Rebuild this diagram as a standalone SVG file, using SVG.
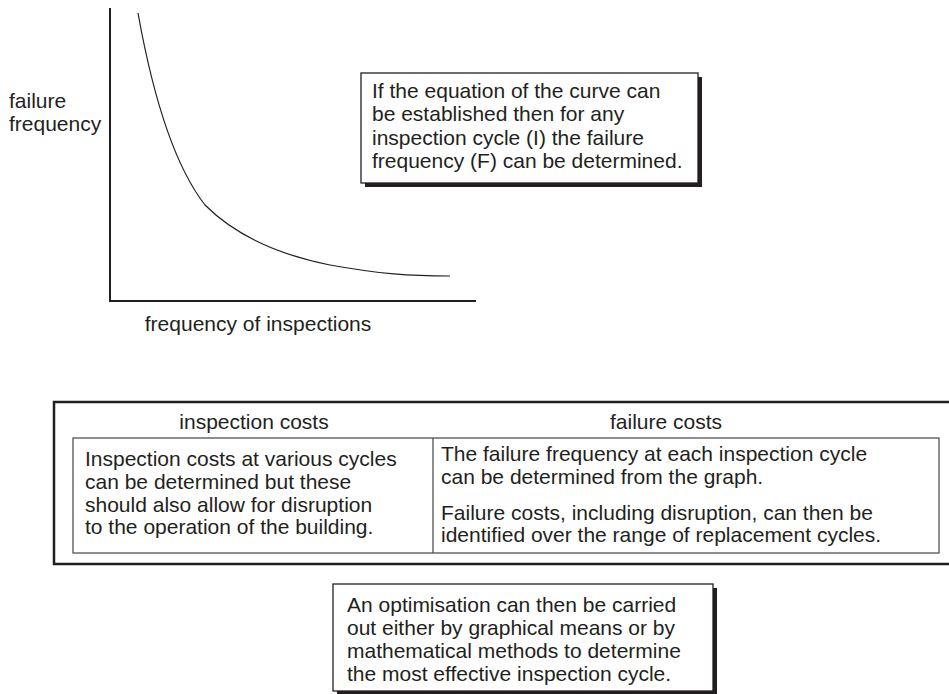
<svg xmlns="http://www.w3.org/2000/svg" width="949" height="694" viewBox="0 0 949 694">
<style>
text{font-family:"Liberation Sans",Arial,sans-serif;font-size:21px;fill:#231f20}
.mid{text-anchor:middle}
.box{fill:#fff;stroke:#231f20;stroke-width:1.3}
.shadow{fill:#231f20}
.axis{fill:none;stroke:#231f20;stroke-width:2}
.curve{fill:none;stroke:#231f20;stroke-width:1.2}
.thin{fill:none;stroke:#444;stroke-width:1.2}
</style>
<rect width="949" height="694" fill="#fff"/>
<g id="graph">
<path class="axis" d="M110,8 V301 H476"/>
<path class="curve" d="M138,13 C150,80 170,160 205,205 C235,235 280,255 330,265 C380,274 410,276 450,276"/>
<text x="9" y="108">failure</text>
<text x="9" y="131">frequency</text>
<text class="mid" x="258" y="331">frequency of inspections</text>
</g>
<g id="note-equation">
<rect class="shadow" x="365" y="77" width="337" height="110"/>
<rect class="box" x="361" y="73" width="337" height="110"/>
<text x="372" y="98">If the equation of the curve can</text>
<text x="372" y="121.3">be established then for any</text>
<text x="372" y="144.6">inspection cycle (I) the failure</text>
<text x="372" y="168">frequency (F) can be determined.</text>
</g>
<g id="costs-table">
<rect x="54" y="402" width="905" height="162" fill="#fff" stroke="#231f20" stroke-width="2.5"/>
<text class="mid" x="254" y="429">inspection costs</text>
<text class="mid" x="666" y="429">failure costs</text>
<rect class="thin" x="73" y="438" width="866" height="115"/>
<line class="thin" x1="433" y1="438" x2="433" y2="553"/>
<text x="85" y="466">Inspection costs at various cycles</text>
<text x="85" y="489">can be determined but these</text>
<text x="85" y="512">should also allow for disruption</text>
<text x="85" y="534">to the operation of the building.</text>
<text x="441" y="461">The failure frequency at each inspection cycle</text>
<text x="441" y="484">can be determined from the graph.</text>
<text x="441" y="520">Failure costs, including disruption, can then be</text>
<text x="441" y="542">identified over the range of replacement cycles.</text>
</g>
<g id="note-optimisation">
<rect class="shadow" x="337" y="588" width="380" height="107"/>
<rect class="box" x="333" y="584" width="380" height="107"/>
<text x="347" y="612">An optimisation can then be carried</text>
<text x="347" y="635">out either by graphical means or by</text>
<text x="347" y="658">mathematical methods to determine</text>
<text x="347" y="681">the most effective inspection cycle.</text>
</g>
<g id="connectors"></g>
</svg>
